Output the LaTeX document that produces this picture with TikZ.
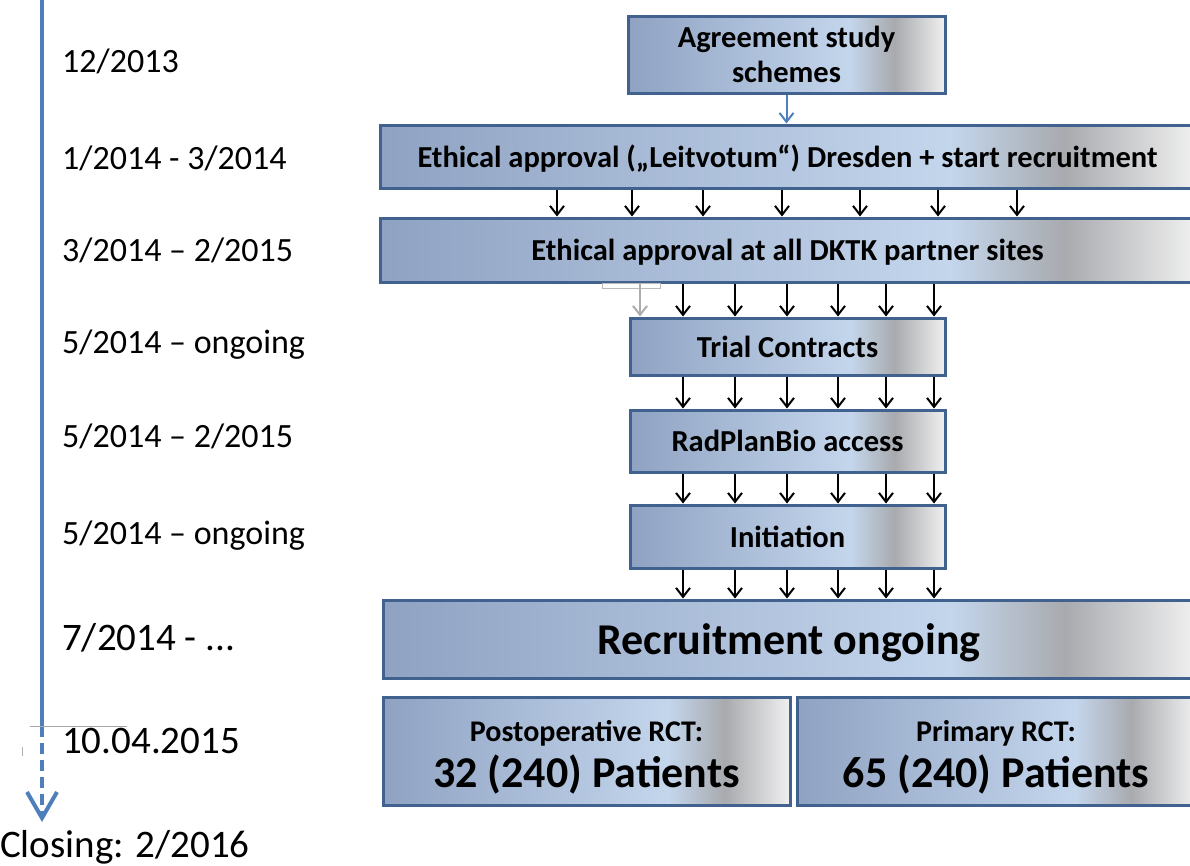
\documentclass[tikz,border=0pt]{standalone}
\usepackage{fontspec}
\setmainfont{Carlito}
\usetikzlibrary{arrows.meta}

\definecolor{boxline}{HTML}{41618F}
\definecolor{shA}{HTML}{8FA2C2}
\definecolor{shB}{HTML}{C4D6EC}
\definecolor{shD}{HTML}{A8AAAE}
\definecolor{shE}{HTML}{F0F0F0}
\definecolor{timeblue}{HTML}{4F7FBA}
\pgfdeclarehorizontalshading{stageshade}{100bp}{color(0bp)=(shA); color(25bp)=(shA);
  color(60bp)=(shB); color(67bp)=(shD); color(75bp)=(shE); color(100bp)=(shE)}

\tikzset{
  stage/.style={draw=boxline, line width=3pt, shading=stageshade, align=center,
    inner sep=0pt, font=\bfseries\fontsize{30.5}{35}\selectfont},
  oneline/.style={text height=29pt, text depth=8pt},
  date/.style={anchor=base west, inner sep=0pt, font=\fontsize{34}{40}\selectfont},
  bigdate/.style={date, font=\fontsize{39}{46}\selectfont},
  tick/.style={-{Straight Barb[length=9pt,width=14pt]}, line width=2pt, black},
}

\begin{document}
\begin{tikzpicture}[x=1pt,y=-1pt]
\useasboundingbox (0,0) rectangle (1190,865);
\clip (0,0) rectangle (1190,865);

% time line
\coordinate (tlA) at (42,-5);
\coordinate (tlB) at (42,726);
\coordinate (tlC) at (42,822);
\draw[timeblue, line width=4pt] (tlA) -- (tlB);
\draw[timeblue, line width=4pt, dash pattern=on 11pt off 6pt, -{Straight Barb[length=26pt,width=30pt]}] (tlB) -- (tlC);
\draw[gray!70, line width=1pt] (30,726) -- (127,726);
\draw[gray!60, line width=1pt] (22,747) -- (22,756);

\node[date] (d1) at (62,72) {12/2013};
\node[date] (d2) at (62,169) {1/2014 - 3/2014};
\node[date] (d3) at (62,261) {3/2014 -- 2/2015};
\node[date] (d4) at (62,353) {5/2014 -- ongoing};
\node[date] (d5) at (62,447) {5/2014 -- 2/2015};
\node[date] (d6) at (62,544) {5/2014 -- ongoing};
\node[bigdate] (d7) at (62,650) {7/2014 - ...};
\node[bigdate] (d8) at (62,753) {10.04.2015};
\node[bigdate] (d9) at (0,857) {Closing: 2/2016};

% stages
\node[stage, minimum width=317pt, minimum height=77pt] (agree) at (786.5,54.5) {Agreement study\\schemes};
\node[stage, oneline, minimum width=815pt, minimum height=63pt] (eth1) at (787.5,156.5) {Ethical approval („Leitvotum“) Dresden + start recruitment};
\node[stage, oneline, minimum width=815pt, minimum height=64pt] (eth2) at (787.5,250) {Ethical approval at all DKTK partner sites};
\node[stage, oneline, minimum width=315pt, minimum height=57pt] (trial) at (787.5,346.5) {Trial Contracts};
\node[stage, oneline, minimum width=315pt, minimum height=62pt] (rpb) at (787.5,441) {RadPlanBio access};
\node[stage, oneline, minimum width=315pt, minimum height=63pt] (init) at (787.5,536.5) {Initiation};
\node[stage, minimum width=812pt, minimum height=78pt, text height=42pt, text depth=12pt,
  font=\bfseries\fontsize{44}{50}\selectfont] (recr) at (789,639) {Recruitment ongoing};
\node[stage, minimum width=407pt, minimum height=108pt, font=\bfseries\fontsize{30}{46}\selectfont] (postop) at (586.5,751) {\rule{0pt}{33pt}Postoperative RCT:\\{\fontsize{44}{46}\selectfont 32 (240) Patients}};
\node[stage, minimum width=398pt, minimum height=108pt, font=\bfseries\fontsize{30}{46}\selectfont] (prim) at (996,751) {\rule{0pt}{33pt}Primary RCT:\\{\fontsize{44}{46}\selectfont 65 (240) Patients}};

% connectors
\draw[timeblue, line width=2pt, -{Straight Barb[length=9pt,width=14pt]}] (agree.south) -- (eth1.north -| agree.south);
\foreach \x in {557,632,703,782,860,938,1017}
  \draw[tick] (eth1.south -| \x,0) -- (eth2.north -| \x,0);
\draw[gray!55, line width=1pt] (602,283) rectangle (660,288);
\draw[tick, gray!65] (eth2.south -| 640,0) -- (trial.north -| 640,0);
\foreach \x in {683,735,787,838,886,934} {
  \draw[tick] (eth2.south -| \x,0) -- (trial.north -| \x,0);
  \draw[tick] (trial.south -| \x,0) -- (rpb.north -| \x,0);
  \draw[tick] (rpb.south -| \x,0) -- (init.north -| \x,0);
  \draw[tick] (init.south -| \x,0) -- (recr.north -| \x,0);
}
\end{tikzpicture}
\end{document}
